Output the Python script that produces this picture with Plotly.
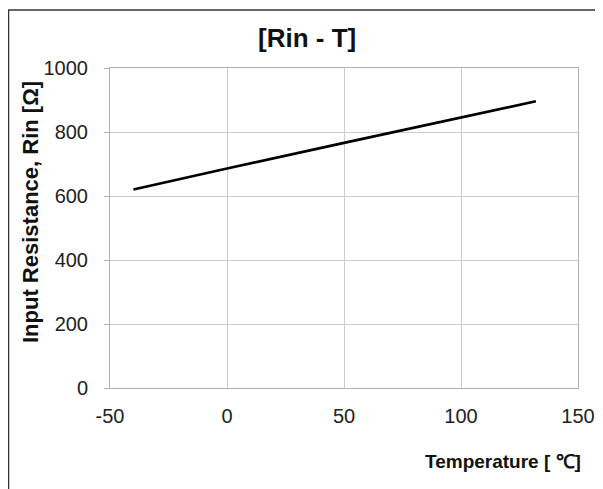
import plotly.graph_objects as go

temperature = [-40, 0, 50, 100, 132]
rin = [620, 686, 766, 846, 896]

x_ticks = [-50, 0, 50, 100, 150]
x_tick_labels = ["-50", "0", "50", "100", "150"]
y_ticks = [0, 200, 400, 600, 800, 1000]

FONT = "Liberation Sans, Arial, sans-serif"

fig = go.Figure()
fig.add_trace(go.Scatter(x=temperature, y=rin, mode="lines",
                         line=dict(color="black", width=2.6), showlegend=False))

fig.update_layout(
    width=603, height=489,
    margin=dict(l=102, r=33, t=60, b=109),
    paper_bgcolor="white", plot_bgcolor="white",
    font=dict(family=FONT, color="#222", size=20),
    xaxis=dict(range=[-50, 150], tickvals=x_ticks, ticktext=x_tick_labels,
               showgrid=True, gridcolor="#cccccc",
               gridwidth=1, zeroline=False, showline=True, linecolor="#b0b0b0",
               mirror=True, ticks="", ticklabelstandoff=10, tickfont=dict(size=20)),
    yaxis=dict(range=[0, 1000], tickvals=y_ticks, showgrid=True, gridcolor="#cccccc",
               gridwidth=1, zeroline=False, showline=True, linecolor="#b0b0b0",
               mirror=True, ticks="outside", ticklen=5, tickcolor="#b0b0b0",
               ticklabelstandoff=12, tickfont=dict(size=20)),
    annotations=[
        dict(text="<b>[Rin - T]</b>", xref="paper", yref="paper", x=0.421, y=1.0,
             yshift=30, xanchor="center", yanchor="middle", showarrow=False,
             font=dict(size=26, family=FONT, color="#111")),
        dict(text="<b>Temperature [ ℃]</b>", xref="paper", yref="paper", x=1.0, y=0,
             xshift=5, yshift=-73, xanchor="right", yanchor="middle", showarrow=False,
             font=dict(size=19, family=FONT, color="#111")),
        dict(text="<b>Input Resistance, Rin [Ω]</b>", xref="paper", yref="paper",
             x=0, xshift=-80, y=0.55, xanchor="center", yanchor="middle", textangle=-90,
             showarrow=False, font=dict(size=22, family=FONT, color="#111")),
    ],
    shapes=[
        dict(type="rect", xref="paper", yref="paper", x0=-0.2169, y0=-0.6, x1=1.3, y1=1.181,
             line=dict(color="#333", width=1.5), fillcolor="rgba(0,0,0,0)", layer="below"),
    ],
)

fig.write_html("out.html")
